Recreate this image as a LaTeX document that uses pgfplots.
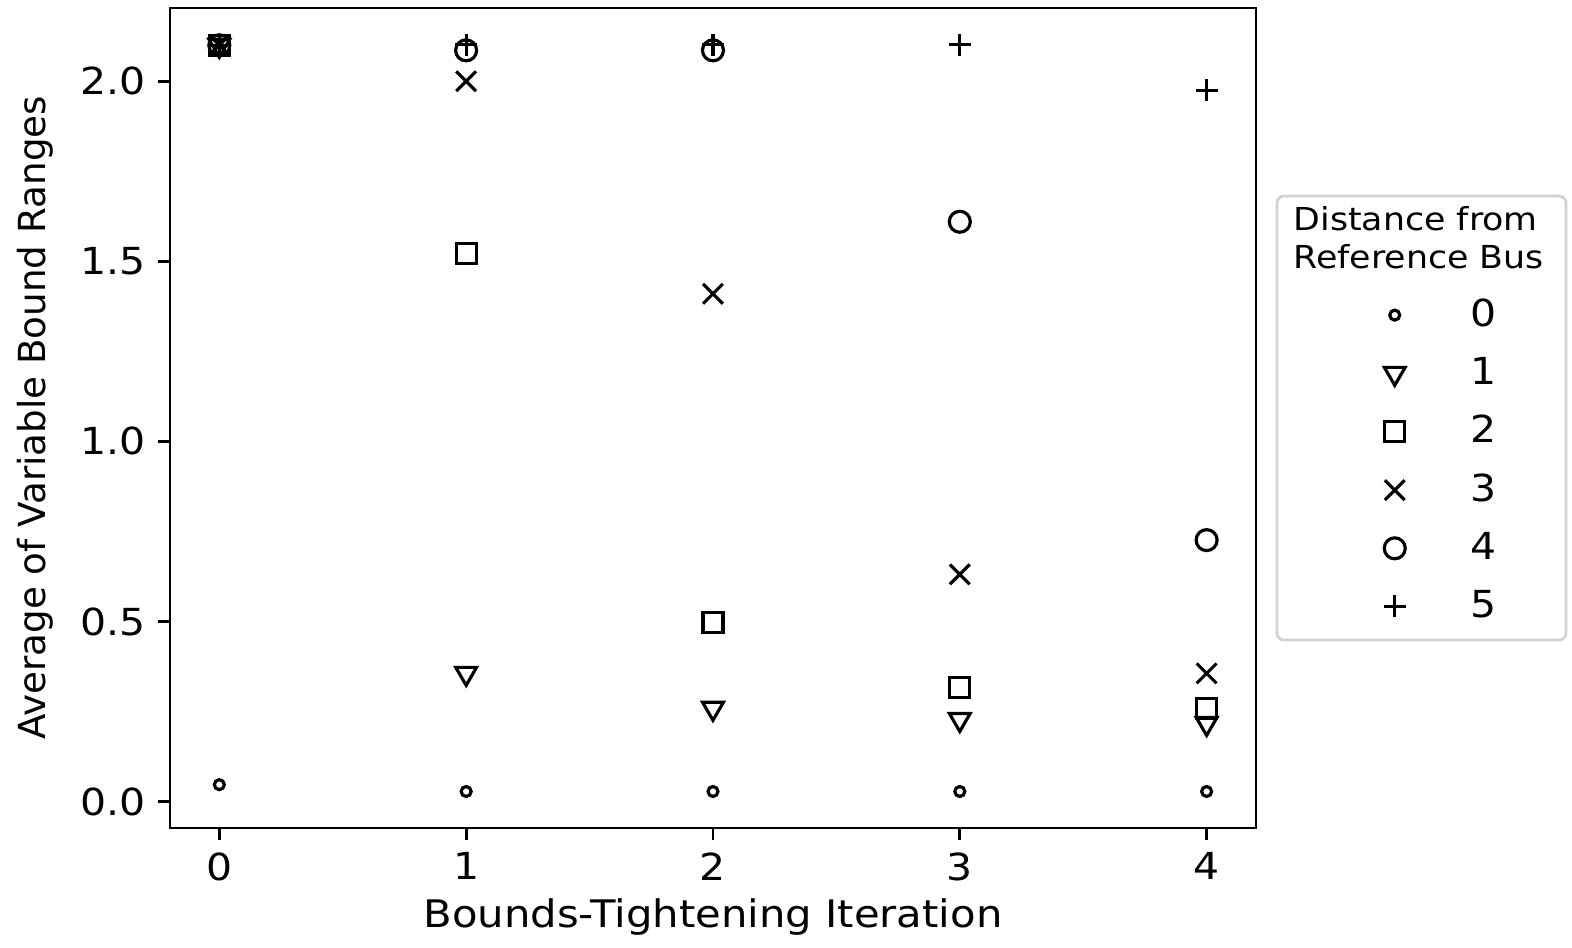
\documentclass[border=0pt]{standalone}
\usepackage{fontspec}
\setmainfont{DejaVu Sans}[FakeStretch=1.1]
\newfontfamily\ylabfont{DejaVu Sans}
\usepackage{pgfplots}
\pgfplotsset{compat=1.18}

\begin{document}
\begin{tikzpicture}
\begin{axis}[
    scale only axis,
    width=10.86cm, height=8.2cm,
    xmin=-0.2, xmax=4.2,
    ymin=-0.0735, ymax=2.2035,
    xtick={0,1,2,3,4},
    ytick={0,0.5,1.0,1.5,2.0},
    yticklabel style={/pgf/number format/.cd, fixed, fixed zerofill, precision=1},
    /pgf/number format/assume math mode=true,
    tick align=outside,
    major tick length=0.12cm,
    tick style={black, line width=0.8pt},
    axis line style={line width=0.8pt},
    xtick pos=bottom, ytick pos=left,
    tick label style={font=\fontsize{10.6}{12.5}\selectfont},
    xlabel={Bounds-Tightening Iteration},
    ylabel={Average of Variable Bound Ranges},
    xlabel style={font=\fontsize{10.8}{13}\selectfont,
        at={(axis description cs:0.5,-0.1085)}, anchor=center},
    ylabel style={font=\ylabfont\fontsize{10.6}{12.5}\selectfont,
        at={(axis description cs:-0.1243,0.5)}, anchor=center},
    clip=false,
    legend style={at={(1.0995,0.655)}, anchor=north west, draw=none, fill=none,
        inner sep=0pt, row sep=0.115cm, font=\fontsize{10.6}{12.5}\selectfont},
    legend cell align=left,
    legend image code/.code={
        \path[draw=none, fill=none] (0cm,-0.12cm) rectangle (0.99cm,0.12cm);
        \draw[#1] plot coordinates {(0.3cm,0cm)};
    },
]
% distance 0
\addplot[only marks, mark=o, mark size=0.05cm, line width=0.9pt] coordinates {
    (0,0.047) (1,0.028) (2,0.028) (3,0.028) (4,0.028)};
\addlegendentry{0}
% distance 1
\addplot[only marks, mark=triangle, mark options={rotate=180}, mark size=0.12cm, line width=0.9pt] coordinates {
    (0,2.10) (1,0.356) (2,0.259) (3,0.228) (4,0.217)};
\addlegendentry{1}
% distance 2
\addplot[only marks, mark=square, mark size=0.1cm, line width=0.9pt] coordinates {
    (0,2.10) (1,1.522) (2,0.498) (3,0.317) (4,0.259)};
\addlegendentry{2}
% distance 3
\addplot[only marks, mark=x, mark size=0.14cm, line width=0.9pt] coordinates {
    (0,2.10) (1,2.00) (2,1.41) (3,0.631) (4,0.356)};
\addlegendentry{3}
% distance 4
\addplot[only marks, mark=o, mark size=0.105cm, line width=0.9pt] coordinates {
    (0,2.10) (1,2.086) (2,2.086) (3,1.61) (4,0.726)};
\addlegendentry{4}
% distance 5
\addplot[only marks, mark=+, mark size=0.11cm, line width=0.9pt] coordinates {
    (0,2.10) (1,2.102) (2,2.102) (3,2.102) (4,1.975)};
\addlegendentry{5}

% legend frame and title
\draw[rounded corners=2pt, line width=0.8pt, gray!35]
    (axis description cs:1.0193,0.2293) rectangle (axis description cs:1.2855,0.7707);
\node[anchor=north west, inner sep=0pt, align=left, font=\fontsize{9}{10.8}\selectfont]
    at (axis description cs:1.034,0.7585) {Distance from\\Reference Bus};
% page frame
\path (axis description cs:-0.1565,-0.1415) rectangle (axis description cs:1.2910,1.0098);
\end{axis}
\end{tikzpicture}
\end{document}
